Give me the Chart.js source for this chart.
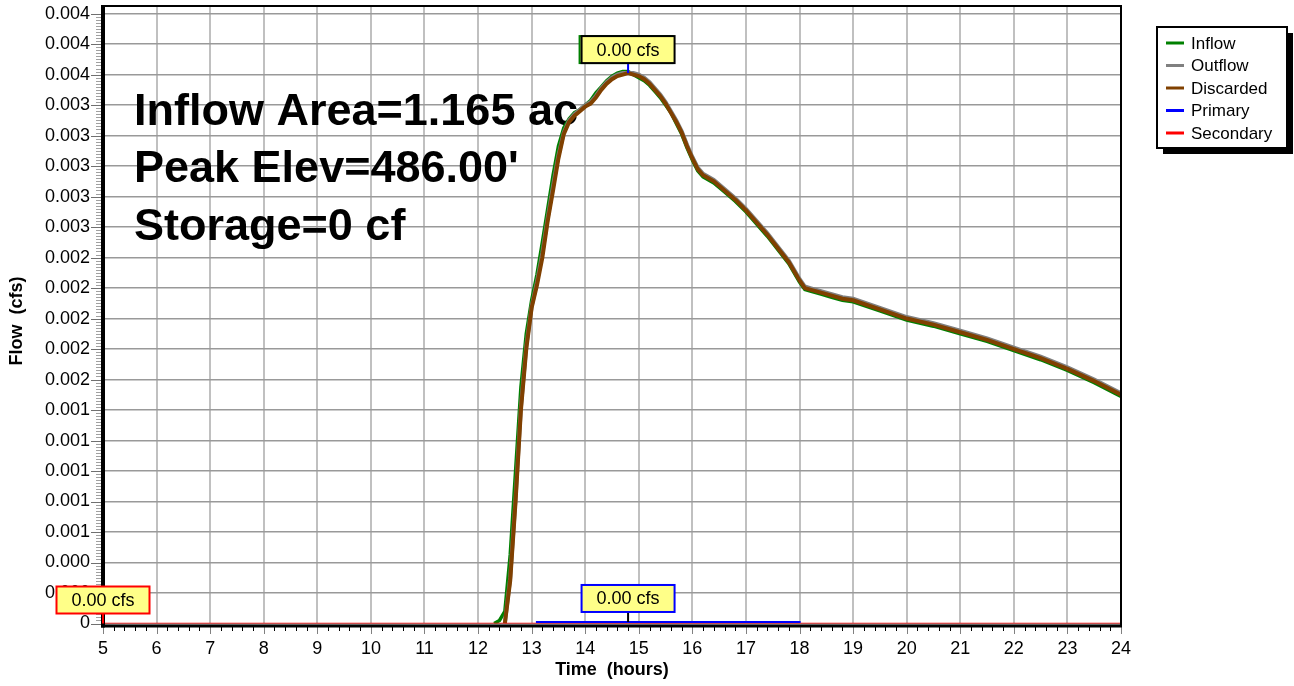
<!DOCTYPE html>
<html lang="en">
<head>
    <meta charset="UTF-8">
    <title>Pond hydrograph</title>
    <script src="https://cdn.jsdelivr.net/npm/chart.js"></script>
    <style>
        body { margin: 0; background: #fff; }
        #wrap { width: 1294px; height: 686px; }
    </style>
</head>
<body>
    <div id="wrap"><canvas id="chart" width="1294" height="686"></canvas></div>

    <script>
        // hours
        const times = [12.3, 12.4, 12.5, 12.6, 12.7, 12.8, 12.9, 13.0, 13.1, 13.2, 13.3, 13.4, 13.5, 13.6, 13.7, 13.8, 13.9, 14.0, 14.1, 14.2,
            14.3, 14.4, 14.5, 14.6, 14.7, 14.8, 14.9, 15.0, 15.1, 15.2, 15.3, 15.4, 15.5, 15.6, 15.7, 15.8, 15.9, 16.0, 16.1, 16.2,
            16.4, 16.6, 16.8, 17.0, 17.2, 17.4, 17.6, 17.8, 18.0, 18.1, 18.2, 18.4, 18.6, 18.8, 19.0,
            19.5, 20.0, 20.5, 21.0, 21.5, 22.0, 22.5, 23.0, 23.5, 24.0];

        // cfs
        const inflow = [0, 0.00002, 0.00008, 0.00045, 0.001, 0.00155, 0.0019, 0.00212, 0.00229, 0.0025, 0.00272, 0.00294, 0.00313, 0.00325, 0.00331, 0.00335, 0.00337, 0.0034, 0.00343, 0.00348,
            0.00352, 0.00356, 0.00359, 0.00361, 0.00362, 0.00362, 0.0036, 0.00358, 0.00356, 0.00353, 0.00349, 0.00345, 0.0034, 0.00335, 0.00328, 0.00321, 0.00312, 0.00304, 0.00297, 0.00293,
            0.00289, 0.00283, 0.00277, 0.0027, 0.00262, 0.00254, 0.00245, 0.00236, 0.00224, 0.00219, 0.00218, 0.00216, 0.00214, 0.00212, 0.00211,
            0.00205, 0.00199, 0.00195, 0.0019, 0.00185, 0.00179, 0.00173, 0.00166, 0.00158, 0.00149];

        const outflow = [null, null, 0, 0.0003, 0.00082, 0.00142, 0.00182, 0.00208, 0.00224, 0.00243, 0.00266, 0.00287, 0.00307, 0.00322, 0.0033, 0.00334, 0.00337, 0.0034, 0.00342, 0.00346,
            0.00351, 0.00355, 0.00358, 0.0036, 0.00361, 0.00361, 0.00361, 0.0036, 0.00358, 0.00355, 0.00351, 0.00347, 0.00342, 0.00336, 0.0033, 0.00323, 0.00314, 0.00306, 0.00299, 0.00295,
            0.00291, 0.00285, 0.00279, 0.00272, 0.00264, 0.00256, 0.00247, 0.00238, 0.00226, 0.00221, 0.0022, 0.00218, 0.00216, 0.00214, 0.00213,
            0.00207, 0.00201, 0.00197, 0.00192, 0.00187, 0.00181, 0.00175, 0.00168, 0.0016, 0.00151];

        const discarded = [null, null, 0, 0.00028, 0.0008, 0.0014, 0.0018, 0.00207, 0.00222, 0.0024, 0.00264, 0.00284, 0.00305, 0.00321, 0.00329, 0.00333, 0.00336, 0.00339, 0.00341, 0.00345,
            0.0035, 0.00354, 0.00357, 0.00359, 0.0036, 0.00361, 0.0036, 0.00359, 0.00357, 0.00354, 0.0035, 0.00346, 0.00341, 0.00335, 0.00329, 0.00322, 0.00313, 0.00305, 0.00298, 0.00294,
            0.0029, 0.00284, 0.00278, 0.00271, 0.00263, 0.00255, 0.00246, 0.00237, 0.00225, 0.0022, 0.00219, 0.00217, 0.00215, 0.00213, 0.00212,
            0.00206, 0.002, 0.00196, 0.00191, 0.00186, 0.0018, 0.00174, 0.00167, 0.00159, 0.0015];

        const primaryTimes = [13.08, 18.02];
        const primary = [0.00001, 0.00001];
        const secondaryTimes = [5, 24];
        const secondary = [0, 0];

        const xTicks = [5, 6, 7, 8, 9, 10, 11, 12, 13, 14, 15, 16, 17, 18, 19, 20, 21, 22, 23, 24];
        const yTickValues = [0, 0.0002, 0.0004, 0.0006, 0.0008, 0.001, 0.0012, 0.0014, 0.0016, 0.0018, 0.002,
            0.0022, 0.0024, 0.0026, 0.0028, 0.003, 0.0032, 0.0034, 0.0036, 0.0038, 0.004];
        const yTickLabels = ['0', '0.000', '0.000', '0.001', '0.001', '0.001', '0.001', '0.001', '0.002', '0.002', '0.002',
            '0.002', '0.002', '0.003', '0.003', '0.003', '0.003', '0.003', '0.004', '0.004', '0.004'];

        const seriesNames = ['Inflow', 'Outflow', 'Discarded', 'Primary', 'Secondary'];
        const seriesColors = ['#008000', '#808080', '#804000', '#0000ff', '#ff0000'];

        const infoLines = ['Inflow Area=1.165 ac', "Peak Elev=486.00'", 'Storage=0 cf'];

        // peak flags: inflow/discarded peak, secondary, primary
        const flagTimes = [14.8, 5, 14.8];
        const flagValues = [0.00361, 0, 0.00001];
        const flagTexts = ['0.00 cfs', '0.00 cfs', '0.00 cfs'];

        const FONT = '"Liberation Sans", Arial, sans-serif';
        Chart.defaults.font.family = FONT;
        Chart.defaults.color = '#000';

        const pts = (xs, ys) => xs.map((x, i) => ({ x: x, y: ys[i] }));

        function flag(ctx, cx, py, border, tickColor, text, ghost) {
            const w = 93, h = 27, bottom = py - 10;
            ctx.strokeStyle = tickColor;
            ctx.lineWidth = 2;
            ctx.beginPath();
            ctx.moveTo(cx, bottom);
            ctx.lineTo(cx, py);
            ctx.stroke();
            if (ghost) {
                ctx.fillStyle = '#ffff88';
                ctx.fillRect(cx - w / 2 - 2, bottom - h, w, h);
                ctx.strokeStyle = ghost;
                ctx.strokeRect(cx - w / 2 - 2, bottom - h, w, h);
            }
            ctx.fillStyle = '#ffff88';
            ctx.fillRect(cx - w / 2, bottom - h, w, h);
            ctx.strokeStyle = border;
            ctx.lineWidth = 2;
            ctx.strokeRect(cx - w / 2, bottom - h, w, h);
            ctx.fillStyle = '#000';
            ctx.font = '18px ' + FONT;
            ctx.textAlign = 'center';
            ctx.textBaseline = 'middle';
            ctx.fillText(text, cx, bottom - h / 2 + 1);
        }

        const hydroDecor = {
            id: 'hydroDecor',
            beforeDatasetsDraw(chart) {
                const ctx = chart.ctx;
                ctx.save();
                ctx.fillStyle = '#000';
                ctx.font = 'bold 45px ' + FONT;
                ctx.textAlign = 'left';
                ctx.textBaseline = 'alphabetic';
                const base = [125, 182, 240];
                infoLines.forEach((t, i) => ctx.fillText(t, 134, base[i]));
                ctx.restore();
            },
            afterDraw(chart) {
                const ctx = chart.ctx;
                const a = chart.chartArea;
                const xs = chart.scales.x, ys = chart.scales.y;
                ctx.save();

                // minor / major ticks
                ctx.lineWidth = 1;
                for (let k = 0; k <= 200; k++) {
                    const y = Math.round(ys.getPixelForValue(k * 0.00002)) + 0.5;
                    if (y < a.top) break;
                    ctx.strokeStyle = k % 10 === 0 ? '#707070' : '#a0a0a0';
                    ctx.beginPath();
                    ctx.moveTo(k % 10 === 0 ? 91 : 96, y);
                    ctx.lineTo(101, y);
                    ctx.stroke();
                }
                for (let k = 0; k <= 95; k++) {
                    const x = Math.round(xs.getPixelForValue(5 + k * 0.2)) + 0.5;
                    ctx.strokeStyle = k % 5 === 0 ? '#808080' : '#000';
                    ctx.beginPath();
                    ctx.moveTo(x, 627);
                    ctx.lineTo(x, k % 5 === 0 ? 634 : 631);
                    ctx.stroke();
                }

                // frame and axes
                ctx.fillStyle = '#000';
                ctx.fillRect(a.left, a.top - 1, a.right - a.left + 1, 2);
                ctx.fillRect(a.right - 1, a.top - 1, 2, a.bottom - a.top + 3);
                ctx.fillRect(a.left - 2, a.top - 1, 4, a.bottom - a.top + 5);
                ctx.fillRect(a.left - 2, a.bottom + 1, a.right - a.left + 3, 3);

                // peak flags
                flag(ctx, xs.getPixelForValue(flagTimes[0]), ys.getPixelForValue(flagValues[0]), '#000', '#0000ff', flagTexts[0], '#008000');
                flag(ctx, xs.getPixelForValue(flagTimes[1]), ys.getPixelForValue(flagValues[1]), '#ff0000', '#ff0000', flagTexts[1]);
                flag(ctx, xs.getPixelForValue(flagTimes[2]), ys.getPixelForValue(flagValues[2]), '#0000ff', '#000', flagTexts[2]);

                // axis titles
                ctx.fillStyle = '#000';
                ctx.font = 'bold 18px ' + FONT;
                ctx.textAlign = 'center';
                ctx.textBaseline = 'middle';
                ctx.fillText('Time  (hours)', (a.left + a.right) / 2, 670);
                ctx.save();
                ctx.translate(17, 321);
                ctx.rotate(-Math.PI / 2);
                ctx.fillText('Flow  (cfs)', 0, 0);
                ctx.restore();

                // legend
                ctx.fillStyle = '#000';
                ctx.fillRect(1163, 33, 130, 121);
                ctx.fillStyle = '#fff';
                ctx.fillRect(1157, 27, 130, 121);
                ctx.strokeStyle = '#000';
                ctx.lineWidth = 2;
                ctx.strokeRect(1157, 27, 130, 121);
                ctx.font = '17px ' + FONT;
                ctx.textAlign = 'left';
                seriesNames.forEach((n, i) => {
                    const y = 43 + i * 22.5;
                    ctx.strokeStyle = seriesColors[i];
                    ctx.lineWidth = 3;
                    ctx.beginPath();
                    ctx.moveTo(1166, y);
                    ctx.lineTo(1184, y);
                    ctx.stroke();
                    ctx.fillStyle = '#000';
                    ctx.fillText(n, 1191, y + 1);
                });
                ctx.restore();
            }
        };

        new Chart(document.getElementById('chart'), {
            type: 'line',
            data: {
                datasets: [
                    { label: 'Inflow', data: pts(times, inflow), borderColor: seriesColors[0], borderWidth: 3.5, order: 5 },
                    { label: 'Outflow', data: pts(times, outflow), borderColor: seriesColors[1], borderWidth: 4, order: 4 },
                    { label: 'Discarded', data: pts(times, discarded), borderColor: seriesColors[2], borderWidth: 4, order: 3 },
                    { label: 'Primary', data: pts(primaryTimes, primary), borderColor: seriesColors[3], borderWidth: 2, order: 1 },
                    { label: 'Secondary', data: pts(secondaryTimes, secondary), borderColor: seriesColors[4], borderWidth: 1.5, order: 2 }
                ]
            },
            options: {
                responsive: false,
                animation: false,
                devicePixelRatio: 1,
                layout: { autoPadding: false, padding: { top: 6, right: 173, left: 0, bottom: 0 } },
                elements: { point: { radius: 0 }, line: { tension: 0, fill: false } },
                plugins: { legend: { display: false }, tooltip: { enabled: false } },
                scales: {
                    x: {
                        type: 'linear',
                        min: 5,
                        max: 24,
                        afterBuildTicks: s => { s.ticks = xTicks.map(v => ({ value: v })); },
                        afterFit: s => { s.height = 62.5; s.paddingLeft = 0; s.paddingRight = 0; },
                        border: { display: false },
                        grid: { color: '#c0c0c0', lineWidth: 2, drawTicks: false },
                        ticks: { font: { size: 18 }, padding: 15, maxRotation: 0, autoSkip: false, callback: v => String(v) }
                    },
                    y: {
                        min: 0,
                        max: 0.00405,
                        afterBuildTicks: s => { s.ticks = yTickValues.map(v => ({ value: v })); },
                        afterFit: s => { s.width = 103; s.paddingTop = 0; s.paddingBottom = 0; },
                        border: { display: false },
                        grid: { color: '#999999', lineWidth: 1.5, drawTicks: false },
                        ticks: { font: { size: 18 }, padding: 13, autoSkip: false, callback: (v, i) => yTickLabels[i] }
                    }
                }
            },
            plugins: [hydroDecor]
        });
    </script>
</body>
</html>
